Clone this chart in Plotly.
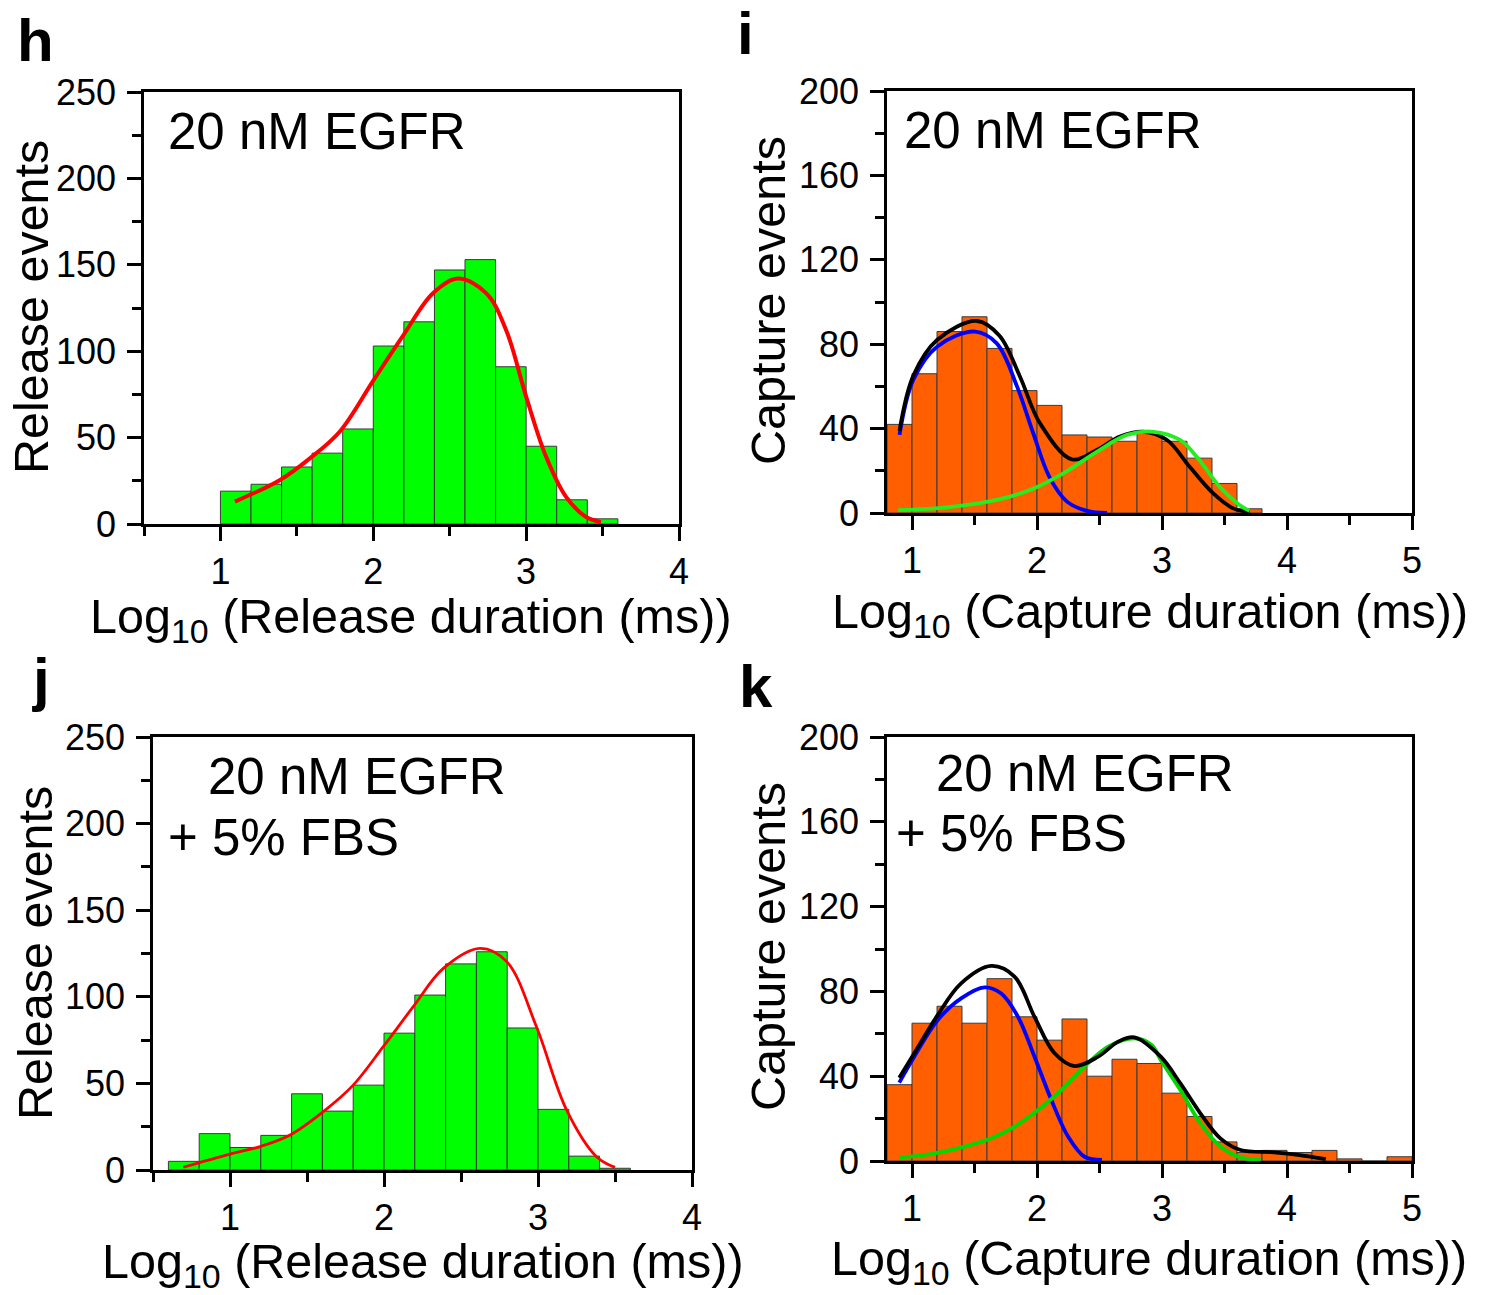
import plotly.graph_objects as go

W, H = 1485, 1295
FONT = "Liberation Sans, Arial, sans-serif"

# ---------------- data ----------------
# panel h : release durations, 20 nM EGFR
h_bins = [1.1, 1.3, 1.5, 1.7, 1.9, 2.1, 2.3, 2.5, 2.7, 2.9, 3.1, 3.3, 3.5]
h_counts = [19, 23, 33, 41, 55, 103, 117, 147, 153, 91, 45, 14, 3]
h_fit_x = [1.095, 1.39, 1.585, 1.78, 2.0, 2.195, 2.39, 2.554, 2.74, 2.87, 3.0, 3.13, 3.26, 3.39, 3.49]
h_fit_y = [13, 25.5, 38, 53.4, 83, 109, 133.5, 142, 133.5, 112, 73.7, 39, 15.8, 4.2, 1]

# panel i : capture durations, 20 nM EGFR
i_bins = [0.9, 1.1, 1.3, 1.5, 1.7, 1.9, 2.1, 2.3, 2.5, 2.7, 2.9, 3.1, 3.3, 3.5, 3.7]
i_counts = [42, 66, 86, 93, 78, 58, 51, 37, 36, 34, 38, 34, 26, 14, 2]
i_blue_x = [0.9, 1.01, 1.2, 1.504, 1.678, 1.84, 1.97, 2.1, 2.24, 2.4, 2.56]
i_blue_y = [37, 63, 78.8, 86, 80.4, 60, 37.8, 17, 5.4, 1, 0]
i_black_x = [0.9, 1.01, 1.2, 1.52, 1.70, 1.864, 2.024, 2.28, 2.478, 2.664, 2.85, 3.04, 3.22, 3.41, 3.57, 3.7]
i_black_y = [39, 65, 82, 91, 84, 64.6, 42.5, 25.4, 29.9, 36.2, 38.5, 34.6, 22, 9.3, 2.2, 0.5]
i_green_x = [0.89, 1.28, 1.678, 1.944, 2.21, 2.478, 2.72, 2.93, 3.144, 3.30, 3.46, 3.62, 3.7]
i_green_y = [1.4, 2.7, 6.2, 10.9, 18.8, 29, 37, 38.5, 34.6, 25, 12.5, 3.8, 1]

# panel j : release durations, 20 nM EGFR + 5% FBS
j_bins = [0.7, 0.9, 1.1, 1.3, 1.5, 1.7, 1.9, 2.1, 2.3, 2.5, 2.7, 2.9, 3.1, 3.3, 3.5]
j_counts = [5, 21, 13, 20, 44, 34, 49, 79, 101, 119, 126, 82, 35, 8, 1]
j_fit_x = [0.697, 1.0, 1.195, 1.39, 1.606, 1.80, 1.995, 2.19, 2.385, 2.623, 2.797, 2.99, 3.186, 3.38, 3.5]
j_fit_y = [1.6, 9.2, 13.5, 20.2, 33.7, 49, 71.2, 94.3, 116.4, 128, 120.3, 82.7, 34.6, 7.7, 1.5]

# panel k : capture durations, 20 nM EGFR + 5% FBS
k_bins = [0.9, 1.1, 1.3, 1.5, 1.7, 1.9, 2.1, 2.3, 2.5, 2.7, 2.9, 3.1, 3.3, 3.5,
          3.7, 3.9, 4.1, 4.3, 4.5, 4.7, 4.9]
k_counts = [36, 65, 73, 65, 86, 68, 57, 67, 40, 48, 46, 32, 21, 9, 4, 5, 4, 5, 1, 0, 2]
k_blue_x = [0.898, 1.018, 1.206, 1.393, 1.58, 1.714, 1.848, 1.98, 2.115, 2.249, 2.38, 2.52]
k_blue_y = [37, 49.2, 66.5, 76.7, 81.9, 79, 68, 49.2, 28.8, 11.5, 2, 0.5]
k_black_x = [0.898, 1.018, 1.206, 1.393, 1.634, 1.82, 1.98, 2.141, 2.30, 2.489, 2.65, 2.78,
             2.99, 3.147, 3.307, 3.467, 3.628, 3.895, 4.1, 4.31]
k_black_y = [39.3, 50.8, 68.9, 83.8, 92, 87, 68, 50.8, 44.8, 49.2, 56.3, 58.3,
             49.2, 36.6, 22.5, 10.7, 5.2, 4.1, 2.8, 0.9]
k_green_x = [0.898, 1.152, 1.42, 1.634, 1.82, 2.008, 2.195, 2.38, 2.569, 2.78, 2.917, 2.99,
             3.147, 3.307, 3.467, 3.628, 3.79]
k_green_y = [1.7, 3.3, 6.8, 10.7, 16.2, 24, 33.5, 44.5, 53.9, 57.9, 54.7, 47.6,
             33.5, 17.8, 6.8, 1.7, 0.5]

BIN_W = 0.2
GREEN_BAR = "#00FF00"
ORANGE_BAR = "#FF5F00"
BAR_EDGE = "#3a3a3a"


def px(x):
    return x / W


def py(y):
    return 1 - y / H


fig = go.Figure()


def bars(x, y, color, ax):
    fig.add_trace(go.Bar(x=x, y=y, width=BIN_W, marker=dict(color=color, line=dict(color=BAR_EDGE, width=1)),
                         xaxis="x" + ax, yaxis="y" + ax, showlegend=False))


def line(x, y, color, width, ax):
    fig.add_trace(go.Scatter(x=x, y=y, mode="lines", line=dict(color=color, width=width, shape="spline", smoothing=1.0),
                             xaxis="x" + ax, yaxis="y" + ax, showlegend=False))


bars(h_bins, h_counts, GREEN_BAR, "")
line(h_fit_x, h_fit_y, "#FF0000", 4, "")

bars(i_bins, i_counts, ORANGE_BAR, "2")
line(i_blue_x, i_blue_y, "#0000FF", 3.8, "2")
line(i_black_x, i_black_y, "#000000", 3.8, "2")
line(i_green_x, i_green_y, "#22EE22", 3.8, "2")

bars(j_bins, j_counts, GREEN_BAR, "3")
line(j_fit_x, j_fit_y, "#FF0000", 2.8, "3")

bars(k_bins, k_counts, ORANGE_BAR, "4")
line(k_blue_x, k_blue_y, "#0000FF", 3.8, "4")
line(k_green_x, k_green_y, "#00D800", 3.8, "4")
line(k_black_x, k_black_y, "#000000", 3.8, "4")

TICKFONT = dict(family=FONT, size=36, color="black")


def xaxis(domain, rng, anchor):
    return dict(domain=domain, range=rng, anchor=anchor, dtick=1, tick0=0, automargin=False,
                showline=True, linewidth=2.5, linecolor="black", mirror=True,
                ticks="outside", ticklen=14, tickwidth=2.5, tickcolor="black",
                minor=dict(ticks="outside", dtick=0.5, ticklen=9, tickwidth=2.5, tickcolor="black"),
                showgrid=False, zeroline=False, tickfont=TICKFONT)


def yaxis(domain, rng, dtick, anchor):
    return dict(domain=domain, range=rng, anchor=anchor, dtick=dtick, tick0=0, automargin=False,
                showline=True, linewidth=2.5, linecolor="black", mirror=True,
                ticks="outside", ticklen=14, tickwidth=2.5, tickcolor="black", ticklabelstandoff=4,
                minor=dict(ticks="outside", dtick=dtick / 2, ticklen=9, tickwidth=2.5, tickcolor="black"),
                showgrid=False, zeroline=False, tickfont=TICKFONT)


fig.update_layout(
    width=W, height=H, margin=dict(l=0, r=0, t=0, b=0, pad=0, autoexpand=False),
    paper_bgcolor="white", plot_bgcolor="white", showlegend=False,
    font=dict(family=FONT, color="black"),
    xaxis=xaxis([px(144), px(679)], [0.5, 4], "y"),
    yaxis=yaxis([py(524), py(92)], [0, 250], 50, "x"),
    xaxis2=xaxis([px(887), px(1412)], [0.8, 5], "y2"),
    yaxis2=yaxis([py(513), py(91)], [0, 200], 40, "x2"),
    xaxis3=xaxis([px(153), px(692)], [0.5, 4], "y3"),
    yaxis3=yaxis([py(1170), py(737)], [0, 250], 50, "x3"),
    xaxis4=xaxis([px(887), px(1412)], [0.8, 5], "y4"),
    yaxis4=yaxis([py(1161), py(737)], [0, 200], 40, "x4"),
)

ann = []


def text(t, x, y, size, xanchor="left", bold=False, angle=0):
    ann.append(dict(text=("<b>%s</b>" % t) if bold else t, x=px(x), y=py(y), xref="paper", yref="paper",
                    xanchor=xanchor, yanchor="middle", showarrow=False, textangle=angle,
                    font=dict(family=FONT, size=size, color="black")))


# panel letters
text("h", 15, 40, 60, bold=True)
text("i", 735, 34, 60, bold=True)
text("j", 30, 679, 60, bold=True)
text("k", 737, 686, 60, bold=True)

# in-plot labels
text("20 nM EGFR", 166, 132, 51)
text("20 nM EGFR", 902, 130, 51)
text("20 nM EGFR", 206, 776, 51)
text("+ 5% FBS", 166, 837, 51)
text("20 nM EGFR", 934, 773, 51)
text("+ 5% FBS", 894, 833, 51)

# axis titles
TS = 48.5
text("Log<sub>10</sub> (Release duration (ms))", 411, 620, TS, xanchor="center")
text("Log<sub>10</sub> (Capture duration (ms))", 1150, 614, TS, xanchor="center")
text("Log<sub>10</sub> (Release duration (ms))", 423, 1264, TS, xanchor="center")
text("Log<sub>10</sub> (Capture duration (ms))", 1149, 1261, TS, xanchor="center")
text("Release events", 31, 307, TS, xanchor="center", angle=-90)
text("Capture events", 768, 301, TS, xanchor="center", angle=-90)
text("Release events", 35, 953, TS, xanchor="center", angle=-90)
text("Capture events", 768, 947, TS, xanchor="center", angle=-90)

fig.update_layout(annotations=ann)
fig.write_html("out.html")
